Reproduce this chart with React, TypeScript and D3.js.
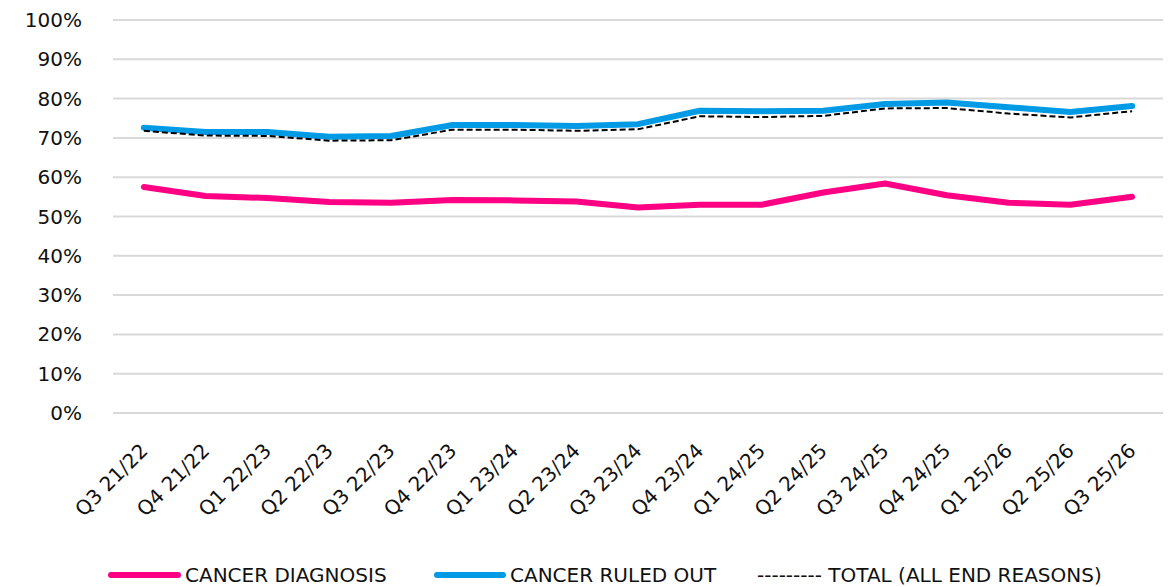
import React, { useEffect, useRef } from 'react';
import * as d3 from 'd3';

const quarters = [
  'Q3 21/22', 'Q4 21/22', 'Q1 22/23', 'Q2 22/23', 'Q3 22/23', 'Q4 22/23',
  'Q1 23/24', 'Q2 23/24', 'Q3 23/24', 'Q4 23/24', 'Q1 24/25', 'Q2 24/25',
  'Q3 24/25', 'Q4 24/25', 'Q1 25/26', 'Q2 25/26', 'Q3 25/26',
];

const cancerDiagnosis = [57.5, 55.2, 54.7, 53.7, 53.5, 54.2, 54.1, 53.8, 52.3, 53.0, 53.0, 56.1, 58.4, 55.4, 53.5, 53.0, 55.0];
const cancerRuledOut = [72.6, 71.5, 71.5, 70.3, 70.5, 73.3, 73.3, 73.0, 73.5, 76.9, 76.8, 76.9, 78.6, 79.0, 77.8, 76.6, 78.1];
const totalAllReasons = [71.8, 70.6, 70.5, 69.3, 69.4, 72.1, 72.1, 71.8, 72.2, 75.5, 75.3, 75.6, 77.5, 77.6, 76.2, 75.2, 76.8];

const yTicks = [0, 10, 20, 30, 40, 50, 60, 70, 80, 90, 100];

const PINK = '#ff0084';
const BLUE = '#009be4';
const FONT = '"DejaVu Sans", sans-serif';

const App = () => {
  const svgRef = useRef<SVGSVGElement>(null);

  useEffect(() => {
    const svgWidth = 1173;
    const svgHeight = 587;
    const margin = { top: 20, right: 10, bottom: 174, left: 113 };
    const width = svgWidth - margin.left - margin.right;
    const height = svgHeight - margin.top - margin.bottom;

    const svg = d3.select(svgRef.current)
      .attr('width', svgWidth)
      .attr('height', svgHeight);

    svg.selectAll('*').remove();

    const x = d3.scaleBand()
      .domain(quarters)
      .range([0, width])
      .padding(0);

    const y = d3.scaleLinear()
      .domain([0, 100])
      .range([height, 0]);

    const cx = (d: string) => (x(d) as number) + x.bandwidth() / 2;

    const chart = svg.append('g')
      .attr('transform', `translate(${margin.left}, ${margin.top})`);

    // gridlines
    chart.selectAll('.grid')
      .data(yTicks)
      .enter()
      .append('line')
      .attr('x1', 0)
      .attr('x2', width)
      .attr('y1', d => y(d))
      .attr('y2', d => y(d))
      .attr('stroke', '#d9d9d9')
      .attr('stroke-width', 2);

    // y labels
    chart.selectAll('.ylab')
      .data(yTicks)
      .enter()
      .append('text')
      .attr('x', -31)
      .attr('y', d => y(d))
      .attr('dy', '0.35em')
      .attr('text-anchor', 'end')
      .attr('font-family', FONT)
      .attr('font-size', 20)
      .attr('fill', '#111')
      .text(d => `${d}%`);

    // x labels, rotated
    chart.selectAll('.xlab')
      .data(quarters)
      .enter()
      .append('text')
      .attr('transform', d => `translate(${cx(d) + 5}, ${height + 39}) rotate(-45)`)
      .attr('text-anchor', 'end')
      .attr('font-family', FONT)
      .attr('font-size', 20)
      .attr('fill', '#111')
      .text(d => d);

    const line = d3.line<number>()
      .x((_, i) => cx(quarters[i]))
      .y(d => y(d));

    chart.append('path')
      .datum(cancerDiagnosis)
      .attr('d', line)
      .attr('fill', 'none')
      .attr('stroke', PINK)
      .attr('stroke-width', 6)
      .attr('stroke-linecap', 'round')
      .attr('stroke-linejoin', 'round');

    chart.append('path')
      .datum(cancerRuledOut)
      .attr('d', line)
      .attr('fill', 'none')
      .attr('stroke', BLUE)
      .attr('stroke-width', 6)
      .attr('stroke-linecap', 'round')
      .attr('stroke-linejoin', 'round');

    chart.append('path')
      .datum(totalAllReasons)
      .attr('d', line)
      .attr('fill', 'none')
      .attr('stroke', '#000')
      .attr('stroke-width', 2)
      .attr('stroke-dasharray', '6,3');

    // legend
    const legend = svg.append('g').attr('transform', 'translate(0, 575)');

    legend.append('line')
      .attr('x1', 111).attr('x2', 178).attr('y1', 0).attr('y2', 0)
      .attr('stroke', PINK).attr('stroke-width', 6).attr('stroke-linecap', 'round');
    legend.append('text')
      .attr('x', 185).attr('dy', '0.35em')
      .attr('font-family', FONT).attr('font-size', 20).attr('fill', '#111')
      .text('CANCER DIAGNOSIS');

    legend.append('line')
      .attr('x1', 437).attr('x2', 503).attr('y1', 0).attr('y2', 0)
      .attr('stroke', BLUE).attr('stroke-width', 6).attr('stroke-linecap', 'round');
    legend.append('text')
      .attr('x', 510).attr('dy', '0.35em')
      .attr('font-family', FONT).attr('font-size', 20).attr('fill', '#111')
      .text('CANCER RULED OUT');

    legend.append('text')
      .attr('x', 757).attr('dy', '0.35em')
      .attr('font-family', FONT).attr('font-size', 20).attr('fill', '#111')
      .text('--------- TOTAL (ALL END REASONS)');
  }, []);

  return (
    <svg ref={svgRef} style={{ position: 'absolute', left: 0, top: 0 }}></svg>
  );
};

export default App;
